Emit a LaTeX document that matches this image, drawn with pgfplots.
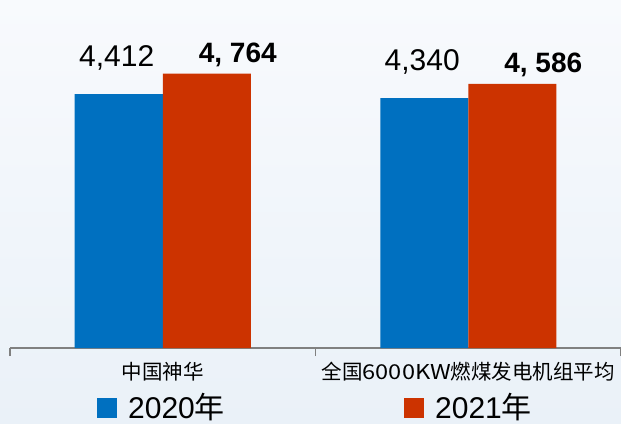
\documentclass[border=0pt]{standalone}
\usepackage{pgfplots}
\pgfplotsset{compat=1.18}
\usepackage{fontspec}
\setmainfont{Liberation Sans}
\newfontfamily\cjk{Noto Sans CJK SC}
\definecolor{c20}{RGB}{0,112,192}
\definecolor{c21}{RGB}{204,51,0}
\definecolor{bgtop}{RGB}{248,250,253}
\definecolor{bgbot}{RGB}{234,241,248}
\begin{document}
\begin{tikzpicture}
\shade[top color=bgtop, bottom color=bgbot] (-10pt,-75pt) rectangle (611pt,348pt);
\begin{axis}[
  at={(0,0)}, anchor=south west,
  scale only axis, width=611pt, height=348pt,
  xmin=-0.5, xmax=1.5, ymin=0, ymax=6045,
  axis y line=none, axis x line=bottom,
  axis line style={-, draw=black!50, line width=1.2pt},
  xtick={-0.5,0.5,1.5}, xticklabels={},
  tick align=outside, major tick length=8pt,
  tick style={draw=black!50, line width=1.2pt},
  ybar=0pt, bar width=88pt,
  clip=false,
  point meta=explicit symbolic,
  nodes near coords,
]
\addplot[fill=c20, draw=none,
  every node near coord/.append style={font=\fontsize{30}{30}\selectfont, anchor=base, yshift=28pt, xshift=-2pt, text=black}]
  coordinates {(0,4412) [4,412] (1,4340) [4,340]};
\addplot[fill=c21, draw=none,
  every node near coord/.append style={font=\bfseries\fontsize{28}{28}\selectfont, anchor=base, yshift=11pt, xshift=31pt, text=black}]
  coordinates {(0,4764) [{4, 764}] (1,4586) [{4, 586}]};
\node[anchor=base, font=\cjk\fontsize{20.5}{20.5}\selectfont] at (axis cs:0,0) [yshift=-31pt] {中国神华};
\node[anchor=base, font=\cjk\fontsize{20.5}{20.5}\selectfont] at (axis cs:1,0) [yshift=-31pt] {全国\scalebox{1.15}[1]{6000KW}燃煤发电机组平均};
\node[anchor=base west, inner sep=0pt, xshift=87pt, yshift=-70pt, font=\fontsize{30}{30}\selectfont] at (axis cs:-0.5,0)
  {\textcolor{c20}{\rule{20pt}{20pt}}\hspace{11pt}2020{\cjk 年}};
\node[anchor=base west, inner sep=0pt, xshift=394pt, yshift=-70pt, font=\fontsize{30}{30}\selectfont] at (axis cs:-0.5,0)
  {\textcolor{c21}{\rule{20pt}{20pt}}\hspace{11pt}2021{\cjk 年}};
\end{axis}
\pgfresetboundingbox
\path[use as bounding box] (-10pt,-75pt) rectangle (611pt,348pt);
\end{tikzpicture}
\end{document}
